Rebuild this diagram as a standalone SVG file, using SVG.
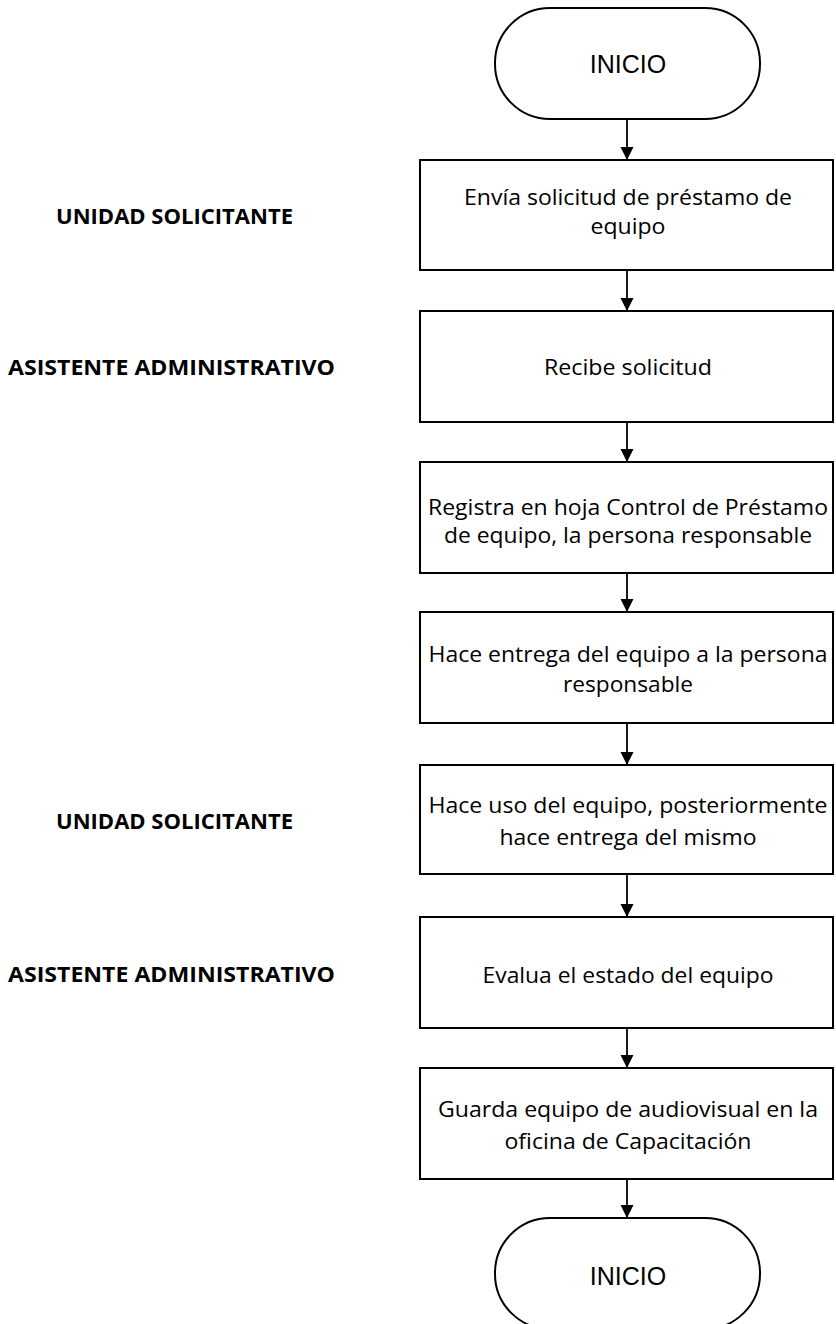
<svg xmlns="http://www.w3.org/2000/svg" width="836" height="1324" viewBox="0 0 836 1324">
  <defs>
    <marker id="arrow" markerUnits="userSpaceOnUse" markerWidth="14" markerHeight="14" refX="13" refY="6.5" orient="auto">
      <path d="M0,0 L13,6.5 L0,13 z" fill="#000"/>
    </marker>
    <style>
      .shape { fill: #fff; stroke: #000; stroke-width: 2; }
      .term { font-family: "Liberation Sans", Arial, sans-serif; font-size: 25px; fill: #000; text-anchor: middle; }
      .step { font-family: "Open Sans", "Liberation Sans", sans-serif; font-size: 21.5px; fill: #000; text-anchor: middle; }
      .role { font-family: "Open Sans", "Liberation Sans", sans-serif; font-size: 21px; font-weight: bold; fill: #000; text-anchor: middle; }
      .link { fill: none; stroke: #000; stroke-width: 1.8; marker-end: url(#arrow); }
    </style>
  </defs>
  <rect width="836" height="1324" fill="#fff"/>

  <!-- role labels -->
  <g id="roles">
    <text class="role" x="174.5" y="224" textLength="237" lengthAdjust="spacingAndGlyphs">UNIDAD SOLICITANTE</text>
    <text class="role" x="171.5" y="375" textLength="327" lengthAdjust="spacingAndGlyphs">ASISTENTE ADMINISTRATIVO</text>
    <text class="role" x="174.5" y="829" textLength="237" lengthAdjust="spacingAndGlyphs">UNIDAD SOLICITANTE</text>
    <text class="role" x="171.5" y="982" textLength="327" lengthAdjust="spacingAndGlyphs">ASISTENTE ADMINISTRATIVO</text>
  </g>

  <!-- connectors -->
  <g id="connectors">
    <line class="link" x1="627" y1="119" x2="627" y2="160"/>
    <line class="link" x1="627" y1="270" x2="627" y2="311"/>
    <line class="link" x1="627" y1="422" x2="627" y2="462"/>
    <line class="link" x1="627" y1="573" x2="627" y2="612"/>
    <line class="link" x1="627" y1="723" x2="627" y2="765"/>
    <line class="link" x1="627" y1="874" x2="627" y2="917"/>
    <line class="link" x1="627" y1="1028" x2="627" y2="1068"/>
    <line class="link" x1="627" y1="1179" x2="627" y2="1218"/>
  </g>

  <g id="start">
    <rect class="shape" x="495" y="8" width="265" height="111" rx="55" ry="55"/>
    <text class="term" x="628" y="73">INICIO</text>
  </g>

  <g id="step1">
    <rect class="shape" x="420" y="160" width="413" height="110"/>
    <text class="step" x="628" y="205" textLength="328" lengthAdjust="spacingAndGlyphs">Envía solicitud de préstamo de</text>
    <text class="step" x="628" y="234" textLength="75" lengthAdjust="spacingAndGlyphs">equipo</text>
  </g>

  <g id="step2">
    <rect class="shape" x="420" y="311" width="413" height="111"/>
    <text class="step" x="628" y="375" textLength="168" lengthAdjust="spacingAndGlyphs">Recibe solicitud</text>
  </g>

  <g id="step3">
    <rect class="shape" x="420" y="462" width="413" height="111"/>
    <text class="step" x="628" y="515" textLength="400" lengthAdjust="spacingAndGlyphs">Registra en hoja Control de Préstamo</text>
    <text class="step" x="628" y="543" textLength="368" lengthAdjust="spacingAndGlyphs">de equipo, la persona responsable</text>
  </g>

  <g id="step4">
    <rect class="shape" x="420" y="612" width="413" height="111"/>
    <text class="step" x="628" y="662" textLength="399" lengthAdjust="spacingAndGlyphs">Hace entrega del equipo a la persona</text>
    <text class="step" x="628" y="692" textLength="130" lengthAdjust="spacingAndGlyphs">responsable</text>
  </g>

  <g id="step5">
    <rect class="shape" x="420" y="765" width="413" height="109"/>
    <text class="step" x="628" y="813" textLength="399" lengthAdjust="spacingAndGlyphs">Hace uso del equipo, posteriormente</text>
    <text class="step" x="628" y="845" textLength="257" lengthAdjust="spacingAndGlyphs">hace entrega del mismo</text>
  </g>

  <g id="step6">
    <rect class="shape" x="420" y="917" width="413" height="111"/>
    <text class="step" x="628" y="983" textLength="291" lengthAdjust="spacingAndGlyphs">Evalua el estado del equipo</text>
  </g>

  <g id="step7">
    <rect class="shape" x="420" y="1068" width="413" height="111"/>
    <text class="step" x="628" y="1117" textLength="380" lengthAdjust="spacingAndGlyphs">Guarda equipo de audiovisual en la</text>
    <text class="step" x="628" y="1149" textLength="247" lengthAdjust="spacingAndGlyphs">oficina de Capacitación</text>
  </g>

  <g id="end">
    <rect class="shape" x="495" y="1218" width="265" height="111" rx="55" ry="55"/>
    <text class="term" x="628" y="1285">INICIO</text>
  </g>
</svg>
